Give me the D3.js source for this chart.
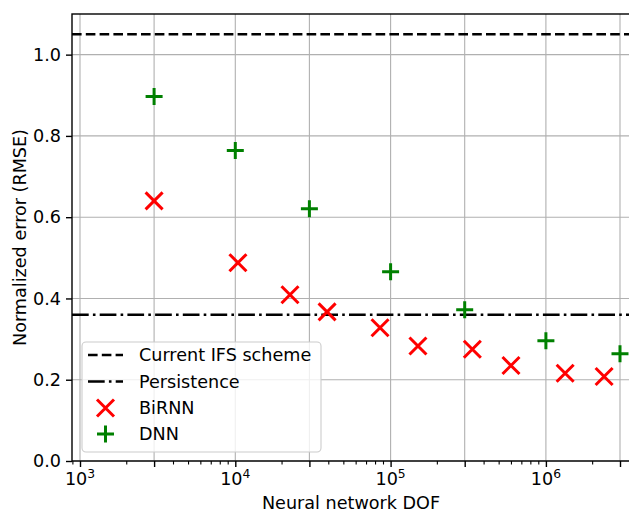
<!doctype html>
<html lang="en">
<head>
  <meta charset="utf-8">
  <script src="https://cdn.jsdelivr.net/npm/d3@7"></script>
</head>
<style>
    body { margin: 0; background: white; }
    svg { display: block; font-family: "DejaVu Sans", sans-serif; }
</style>
<body>
<script>
    // values
    let dnnDof = [3e3, 1e4, 3e4, 1e5, 3e5, 1e6, 3e6]
    let dnnErr = [0.897, 0.764, 0.621, 0.466, 0.372, 0.296, 0.264]
    let birnnDof = [3e3, 1.04e4, 2.25e4, 3.9e4, 8.55e4, 1.5e5, 3.36e5, 5.96e5, 1.33e6, 2.37e6]
    let birnnErr = [0.640, 0.488, 0.409, 0.367, 0.328, 0.283, 0.275, 0.235, 0.216, 0.208]
    let ifsErr = 1.05
    let persistErr = 0.36
    let xMajor = [1e3, 3e3, 1e4, 3e4, 1e5, 3e5, 1e6, 3e6]
    let xLabelExp = {1e3: 3, 1e4: 4, 1e5: 5, 1e6: 6}
    let yTicks = [0, 0.2, 0.4, 0.6, 0.8, 1.0]
    let legendNames = ["Current IFS scheme", "Persistence", "BiRNN", "DNN"]

    let W = 629, H = 512
    let pLeft = 72, pRight = 630, pTop = 14, pBottom = 461
    let fs = 17.6

    let svg = d3.select('body').append('svg')
        .attr('width', W).attr('height', H)

    let x = d3.scaleLog()
        .domain([Math.pow(10, 3 - 8 / 155.3), Math.pow(10, 3 + 550 / 155.3)])
        .range([pLeft, pRight])
    let y = d3.scaleLinear().domain([0, 1.1]).range([pBottom, pTop])

    // grid
    let grid = svg.append('g').attr('stroke', '#b0b0b0').attr('stroke-width', 1.1)
    for (let v of xMajor) {
        grid.append('line').attr('x1', x(v)).attr('x2', x(v)).attr('y1', pTop).attr('y2', pBottom)
    }
    for (let v of yTicks) {
        grid.append('line').attr('x1', pLeft).attr('x2', pRight).attr('y1', y(v)).attr('y2', y(v))
    }

    // reference lines
    svg.append('line')
        .attr('x1', pLeft).attr('x2', pRight).attr('y1', y(ifsErr)).attr('y2', y(ifsErr))
        .attr('stroke', 'black').attr('stroke-width', 2.6).attr('stroke-dasharray', '9.6,4.2')
    svg.append('line')
        .attr('x1', pLeft).attr('x2', pRight).attr('y1', y(persistErr)).attr('y2', y(persistErr))
        .attr('stroke', 'black').attr('stroke-width', 2.6).attr('stroke-dasharray', '16.7,4.2,2.6,4.2')

    let ms = 8.5
    let drawX = (g, cx, cy) => {
        g.append('path')
            .attr('d', `M${cx - ms},${cy - ms}L${cx + ms},${cy + ms}M${cx - ms},${cy + ms}L${cx + ms},${cy - ms}`)
            .attr('stroke', 'red').attr('stroke-width', 3).attr('fill', 'none')
    }
    let drawPlus = (g, cx, cy) => {
        g.append('path')
            .attr('d', `M${cx - ms},${cy}L${cx + ms},${cy}M${cx},${cy - ms}L${cx},${cy + ms}`)
            .attr('stroke', 'green').attr('stroke-width', 3).attr('fill', 'none')
    }

    let marks = svg.append('g')
    birnnDof.forEach((d, i) => drawX(marks, x(d), y(birnnErr[i])))
    dnnDof.forEach((d, i) => drawPlus(marks, x(d), y(dnnErr[i])))

    // axes
    let xAxis = svg.append('g')
        .attr('transform', `translate(0,${pBottom})`)
        .call(d3.axisBottom(x).tickValues(xMajor).tickFormat('').tickSize(6).tickSizeOuter(0))
    xAxis.select('.domain').remove()
    xAxis.selectAll('line').attr('stroke-width', 1.4)

    let minor = []
    for (let e = 2; e <= 6; e++) {
        for (let m = 2; m <= 9; m++) {
            let v = m * Math.pow(10, e)
            if (v >= x.domain()[0] && v <= x.domain()[1] && m != 3) minor.push(v)
        }
    }
    svg.append('g').selectAll('line').data(minor).join('line')
        .attr('x1', d => x(d)).attr('x2', d => x(d))
        .attr('y1', pBottom).attr('y2', pBottom + 3.5)
        .attr('stroke', 'black').attr('stroke-width', 1.1)

    for (let v of [1e3, 1e4, 1e5, 1e6]) {
        let t = svg.append('text')
            .attr('x', x(v)).attr('y', 485)
            .attr('text-anchor', 'middle')
            .attr('font-size', fs)
        t.append('tspan').text('10')
        t.append('tspan').attr('dy', -7).attr('font-size', fs * 0.7).text(xLabelExp[v])
    }

    let yAxis = svg.append('g')
        .attr('transform', `translate(${pLeft},0)`)
        .call(d3.axisLeft(y).tickValues(yTicks).tickFormat(d3.format('.1f')).tickSize(6).tickPadding(5).tickSizeOuter(0))
    yAxis.select('.domain').remove()
    yAxis.selectAll('line').attr('stroke-width', 1.4)
    yAxis.selectAll('text').attr('font-size', fs).attr('font-family', 'DejaVu Sans').attr('fill', 'black')

    // spines
    svg.append('rect')
        .attr('x', pLeft).attr('y', pTop).attr('width', pRight - pLeft).attr('height', pBottom - pTop)
        .attr('fill', 'none').attr('stroke', 'black').attr('stroke-width', 1.4)

    // labels
    svg.append('text')
        .attr('x', 351).attr('y', 509)
        .attr('text-anchor', 'middle').attr('font-size', fs)
        .text('Neural network DOF')
    svg.append('text')
        .attr('transform', `translate(26,${(pTop + pBottom) / 2}) rotate(-90)`)
        .attr('text-anchor', 'middle').attr('font-size', fs)
        .text('Normalized error (RMSE)')

    // legend
    let lg = svg.append('g')
    lg.append('rect')
        .attr('x', 82).attr('y', 342).attr('width', 239).attr('height', 110)
        .attr('rx', 4).attr('fill', 'white').attr('fill-opacity', 0.8)
        .attr('stroke', '#cccccc').attr('stroke-width', 1.1)
    let rowY = [355, 381.5, 408, 434]
    lg.append('line').attr('x1', 88).attr('x2', 123).attr('y1', rowY[0]).attr('y2', rowY[0])
        .attr('stroke', 'black').attr('stroke-width', 2.6).attr('stroke-dasharray', '9.6,4.2')
    lg.append('line').attr('x1', 88).attr('x2', 123).attr('y1', rowY[1]).attr('y2', rowY[1])
        .attr('stroke', 'black').attr('stroke-width', 2.6).attr('stroke-dasharray', '16.7,4.2,2.6,4.2')
    drawX(lg, 105.5, rowY[2])
    drawPlus(lg, 105.5, rowY[3])
    legendNames.forEach((n, i) => {
        lg.append('text')
            .attr('x', 139).attr('y', rowY[i] + 6.2)
            .attr('font-size', fs)
            .text(n)
    })
</script>
</body>
</html>
